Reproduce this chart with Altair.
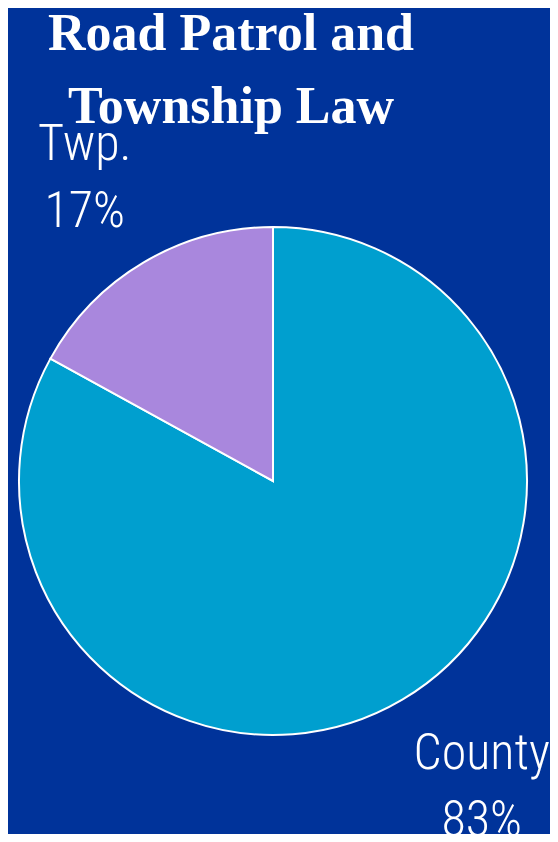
import altair as alt
import pandas as pd

categories = ["County", "Twp."]
shares = [83, 17]
colors = ["#009FCF", "#A987DD"]
title_lines = ["Road Patrol and", "Township Law"]

df = pd.DataFrame({"category": categories, "share": shares, "order": list(range(len(categories)))})
tdf = pd.DataFrame({"line": title_lines, "idx": list(range(len(title_lines)))})

W, H = 542, 826
CX, CY, R = 265, 473, 254

base = alt.Chart(df)

pie = base.mark_arc(outerRadius=R, stroke="white", strokeWidth=2).encode(
    x=alt.value(CX), y=alt.value(CY),
    theta=alt.Theta("share:Q", stack=True),
    order=alt.Order("order:Q"),
    color=alt.Color("category:N", scale=alt.Scale(domain=categories, range=colors), legend=None),
)

lab = base.transform_window(
    cum="sum(share)", sort=[alt.SortField("order")], frame=[None, 0]
).transform_joinaggregate(total="sum(share)").transform_calculate(
    mid="(datum.cum - datum.share/2)/datum.total*2*PI",
    label="datum.category + '\\n' + datum.share + '%'",
)

txt_style = dict(font="'Liberation Sans Narrow', 'Arial Narrow', 'Roboto Condensed', Roboto",
                 fontSize=50, fontWeight=300, color="white",
                 lineBreak="\n", lineHeight=67, align="center", baseline="middle")

twp = lab.transform_filter("datum.category == 'Twp.'").mark_text(
    radius=356, dx=-7, dy=-30, **txt_style).encode(
    x=alt.value(CX), y=alt.value(CY),
    theta=alt.Theta("mid:Q", scale=None), text="label:N")
county = lab.transform_filter("datum.category == 'County'").mark_text(
    radius=355, dx=28, dy=-33, **txt_style).encode(
    x=alt.value(CX), y=alt.value(CY),
    theta=alt.Theta("mid:Q", scale=None), text="label:N")

title = alt.Chart(tdf).mark_text(font="Liberation Serif", fontWeight="bold", fontSize=52,
                                 color="white", align="center", baseline="alphabetic").encode(
    x=alt.value(223),
    y=alt.Y("idx:Q", scale=alt.Scale(domain=[0, 1], range=[42, 115]), axis=None),
    text="line:N")

chart = alt.layer(pie, twp, county, title).properties(
    width=W, height=H, background="#00339A", padding=0,
    autosize=alt.AutoSizeParams(type="fit", contains="padding"),
).configure_view(stroke=None)

chart.save("out.html", embed_options={"renderer": "svg", "actions": False})
